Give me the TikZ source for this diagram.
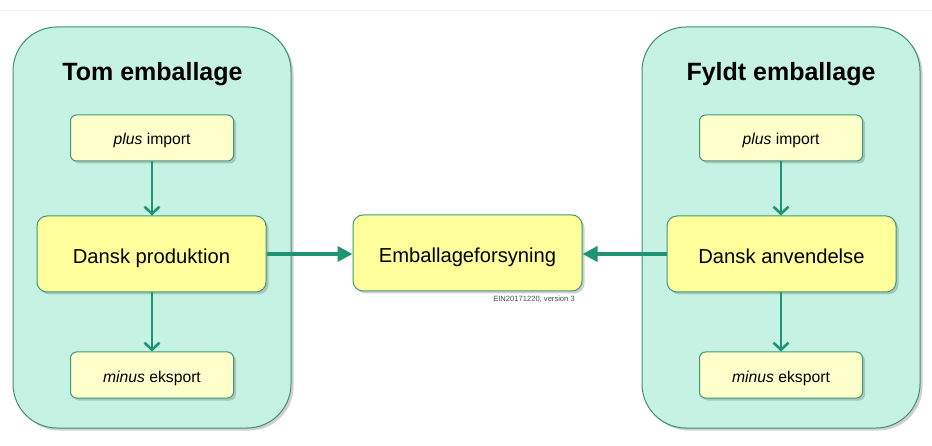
\documentclass[tikz,border=0pt]{standalone}
\usepackage{fontspec}
\setmainfont{Liberation Sans}
\usetikzlibrary{arrows.meta,shadows}

\definecolor{mint}{HTML}{C6F2E4}
\definecolor{mintline}{HTML}{3F8F75}
\definecolor{flow}{HTML}{1E9474}
\definecolor{boxline}{HTML}{3C9A76}
\definecolor{paleyellow}{HTML}{FFFFCC}
\definecolor{brightyellow}{HTML}{FFFF9C}

\tikzset{
  container/.style={draw=mintline, line width=1pt, fill=mint, rounded corners=44pt,
    minimum width=278pt, minimum height=401pt, inner sep=0pt,
    drop shadow={shadow xshift=2.5pt, shadow yshift=-2.5pt, opacity=0.3, fill=black!60}},
  title/.style={font=\fontsize{25}{30}\selectfont\bfseries, inner sep=0pt},
  smallbox/.style={draw=boxline, line width=1pt, fill=paleyellow, rounded corners=6pt,
    minimum width=163pt, minimum height=46pt, inner sep=0pt,
    text height=15pt, text depth=1pt,
    font=\fontsize{15.7}{19}\selectfont,
    drop shadow={shadow xshift=2.5pt, shadow yshift=-2.5pt, opacity=0.3, fill=black!60}},
  bigbox/.style={draw=boxline, line width=1pt, fill=brightyellow, rounded corners=10pt,
    minimum width=229pt, minimum height=76pt, inner sep=0pt,
    text height=20pt, text depth=1pt,
    font=\fontsize{20.2}{24}\selectfont,
    drop shadow={shadow xshift=2.5pt, shadow yshift=-2.5pt, opacity=0.3, fill=black!60}},
  vflow/.style={draw=flow, line width=2.6pt,
    -{Straight Barb[length=7pt, width=15pt, line width=2.6pt]}},
  hflow/.style={draw=flow, line width=4pt,
    -{Triangle[length=15pt, width=15pt]}},
}

\begin{document}
\begin{tikzpicture}[x=1pt, y=-1pt]
\useasboundingbox (0,0) rectangle (932,446);
\fill[white] (0,0) rectangle (932,446);
\draw[black!6, line width=0.8pt] (0,10) -- (932,10);

% two package groups
\node[container] (left) at (152,227.5) {};
\node[container] (right) at (781,227.5) {};
\node[title] (ltitle) at (152.5,74) {Tom emballage};
\node[title] (rtitle) at (781,74) {Fyldt emballage};

% empty packaging
\node[smallbox] (imp1) at (152,138) {\textit{plus} import};
\node[bigbox]   (prod) at (151.5,254) {Dansk produktion};
\node[smallbox] (exp1) at (152,375) {\textit{minus} eksport};

% filled packaging
\node[smallbox] (imp2) at (781,138) {\textit{plus} import};
\node[bigbox]   (anv) at (781.5,254) {Dansk anvendelse};
\node[smallbox] (exp2) at (781,375) {\textit{minus} eksport};

% supply
\node[bigbox] (supply) at (467.5,253) {Emballageforsyning};
\node[font=\fontsize{7.6}{9}\selectfont, text=black!70, inner sep=0pt, anchor=east]
  (ver) at (575,299) {EIN20171220, version 3};

% flows
\draw[vflow] (imp1.south) -- (imp1.south |- prod.north);
\draw[vflow] (imp1.south |- prod.south) -- (exp1.north);
\draw[vflow] (imp2.south) -- (imp2.south |- anv.north);
\draw[vflow] (imp2.south |- anv.south) -- (exp2.north);
\draw[hflow] (prod.east) -- (prod.east -| supply.west);
\draw[hflow] (anv.west) -- (anv.west -| supply.east);
\end{tikzpicture}
\end{document}
